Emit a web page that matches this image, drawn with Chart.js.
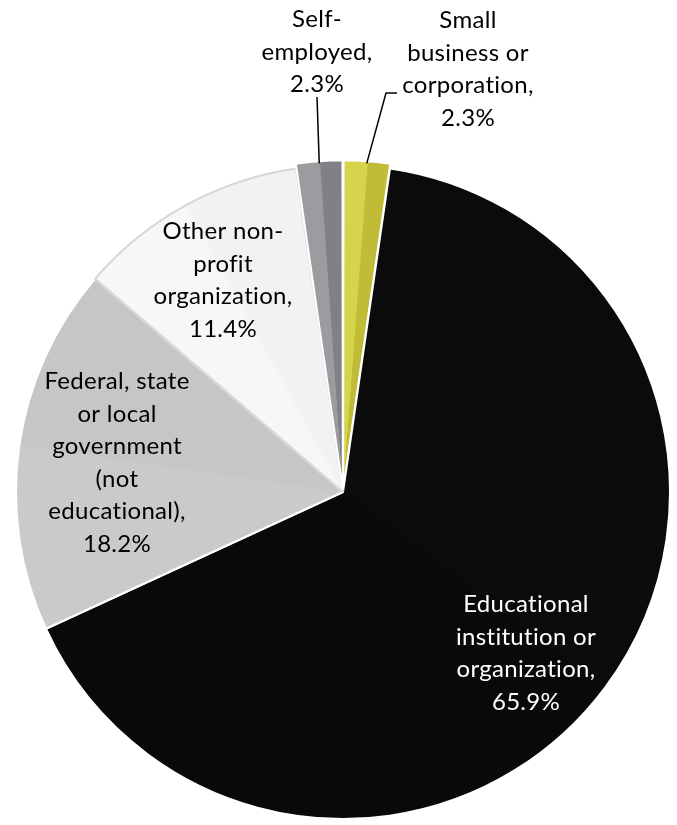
<!DOCTYPE html>
<html lang="en">
<head>
<meta charset="UTF-8">
<title>Type of employer</title>
<script src="https://cdn.jsdelivr.net/npm/chart.js"></script>
<style>
  html, body { margin: 0; padding: 0; background: #fff; }
  #wrap { width: 677px; height: 825px; }
</style>
</head>
<body>
<div id="wrap"><canvas id="pie" width="677" height="825"></canvas></div>
<script>
// slices clockwise from 12 o'clock, names split the way the labels wrap
const categories = [
  ['Small', 'business or', 'corporation,'],
  ['Educational', 'institution or', 'organization,'],
  ['Federal, state', 'or local', 'government', '(not', 'educational),'],
  ['Other non-', 'profit', 'organization,'],
  ['Self-', 'employed,']
];
const shares = [2.3, 65.9, 18.2, 11.4, 2.3];

// two facet shades per slice, for the bevel look
const facetLight = ['#d6d44c', '#0b0b0b', '#cacaca', '#f7f7f7', '#9c9ca0'];
const facetDark  = ['#c0bc38', '#090909', '#c6c6c6', '#f2f2f2', '#808086'];
const edgeColors = ['#ffffff', '#ffffff', '#ffffff', '#d6d6d6', '#ffffff'];
const labelColors = ['#000', '#fff', '#000', '#000', '#000'];

// label blocks: centre x, first baseline y
const labelPos = [[468, 28], [526, 612], [117, 389], [223, 239], [317, 27]];
const lineGap = 32.5;
// leader lines (start points, they end on the slice rim)
const leaders = { 0: [[397, 93], [386, 93]], 4: [[317, 97]] };

const total = shares.reduce((a, b) => a + b, 0);

function facetFill(context) {
  const i = context.dataIndex;
  const chart = context.chart;
  const area = chart.chartArea;
  if (!area) return facetLight[i];
  const cx = (area.left + area.right) / 2;
  const cy = (area.top + area.bottom) / 2;
  const before = shares.slice(0, i).reduce((a, b) => a + b, 0);
  const start = -Math.PI / 2 + 2 * Math.PI * before / total;
  const span = shares[i] / total;
  const g = chart.ctx.createConicGradient(start, cx, cy);
  g.addColorStop(0, facetLight[i]);
  g.addColorStop(span * 0.5, facetLight[i]);
  g.addColorStop(span * 0.5 + 0.0008, facetDark[i]);
  g.addColorStop(span, facetDark[i]);
  g.addColorStop(1, facetDark[i]);
  return g;
}

const sliceLabels = {
  id: 'sliceLabels',
  afterDatasetsDraw(chart) {
    const ctx = chart.ctx;
    const arcs = chart.getDatasetMeta(0).data;
    ctx.save();
    ctx.font = '24px Lato';
    ctx.letterSpacing = '0.3px'; // also stops the "ti" ligature
    ctx.textAlign = 'center';
    ctx.textBaseline = 'alphabetic';
    arcs.forEach((arc, i) => {
      const lines = categories[i].concat(shares[i].toFixed(1) + '%');
      const [x, y] = labelPos[i];
      ctx.fillStyle = labelColors[i];
      lines.forEach((t, k) => ctx.fillText(t, x, y + k * lineGap));

      if (leaders[i]) {
        const p = arc.getProps(['x', 'y', 'startAngle', 'endAngle', 'outerRadius']);
        const mid = (p.startAngle + p.endAngle) / 2;
        const r = p.outerRadius + (arc.options.offset || 0) / 4;
        ctx.strokeStyle = '#000';
        ctx.lineWidth = 1.5;
        ctx.beginPath();
        leaders[i].forEach(([lx, ly], k) => k ? ctx.lineTo(lx, ly) : ctx.moveTo(lx, ly));
        ctx.lineTo(p.x + Math.cos(mid) * r, p.y + Math.sin(mid) * r);
        ctx.stroke();
      }
    });
    ctx.restore();
  }
};

new Chart(document.getElementById('pie'), {
  type: 'pie',
  data: {
    labels: categories,
    datasets: [{
      data: shares,
      backgroundColor: facetFill,
      borderColor: edgeColors,
      borderWidth: 2,
      offset: [10, 0, 0, 0, 10],
      radius: 327
    }]
  },
  options: {
    responsive: false,
    animation: false,
    layout: { padding: { left: 14, right: 5, top: 163, bottom: 4 } },
    plugins: {
      legend: { display: false },
      tooltip: { enabled: false }
    }
  },
  plugins: [sliceLabels]
});
</script>
</body>
</html>
